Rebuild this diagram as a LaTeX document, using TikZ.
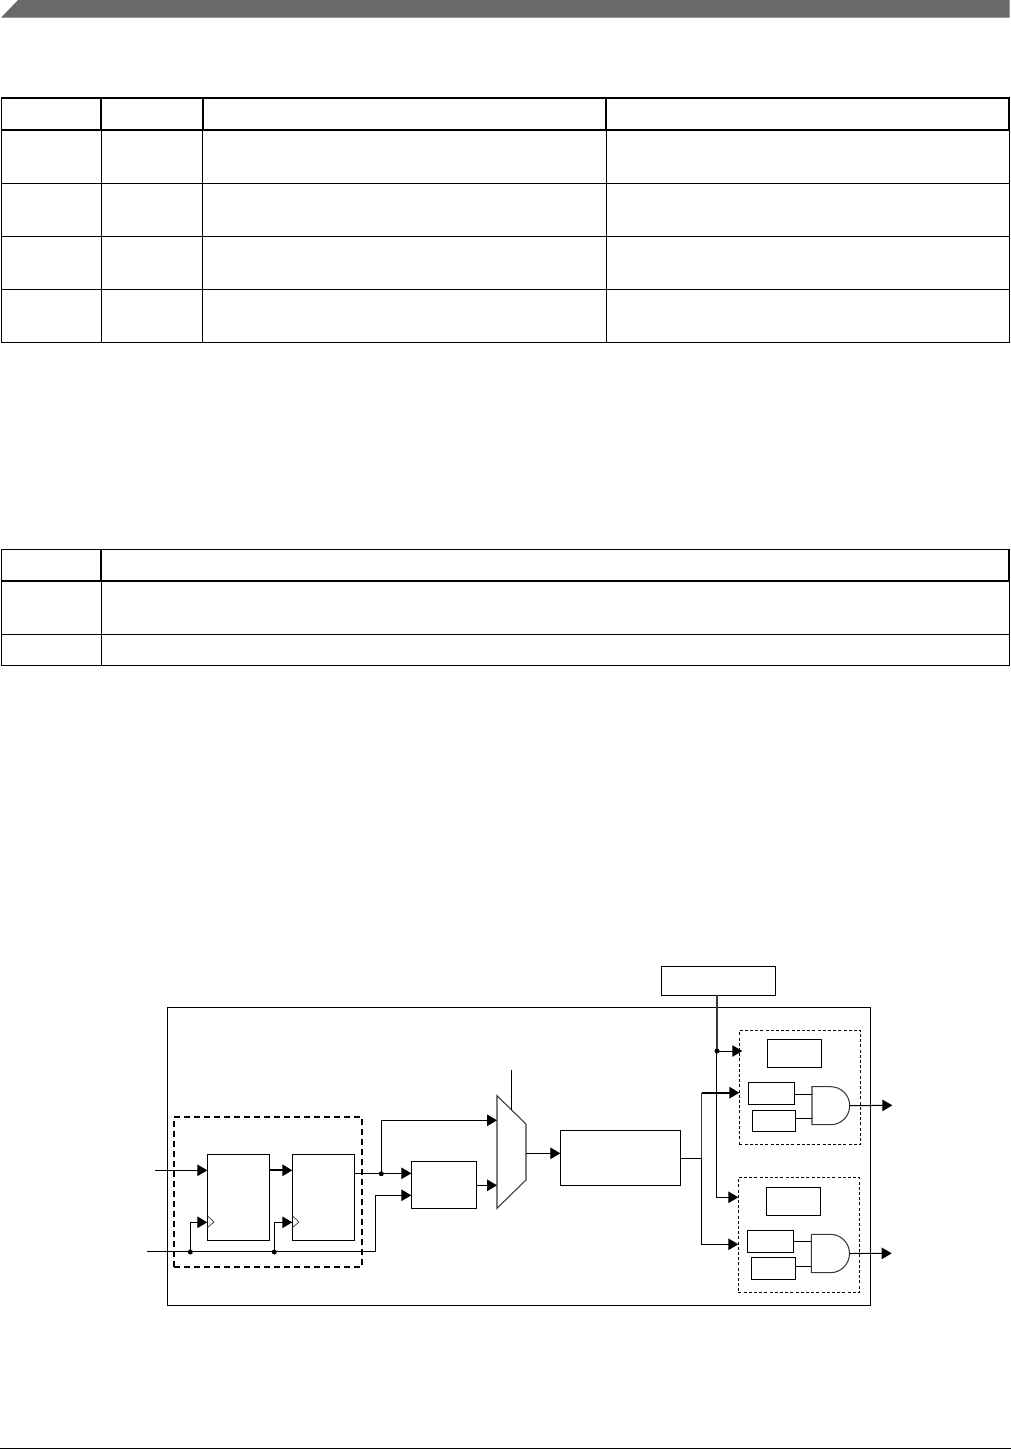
\documentclass[tikz,border=0pt]{standalone}
\usetikzlibrary{arrows.meta,calc}
\definecolor{headgray}{HTML}{696969}
\definecolor{gateline}{HTML}{383838}
\newcommand{\pxbox}[5]{\node[pxrect,minimum width={(#4-#2)*1pt},minimum height={(#5-#3)*1pt}] (#1) at ({(#2+#4)/2},{(#3+#5)/2}) {};}
\newcommand{\andgate}[6]{% name, left, top, bottom, midx, radius
  \draw[gatestyle] (#2,#3) -- (#5,#3) arc[start angle=90,end angle=-90,radius=#6pt] -- (#2,#4) -- cycle;
  \coordinate (#1out) at ({#5+#6},{(#3+#4)/2});
  \coordinate (#1west) at (#2,{(#3+#4)/2});
}
\tikzset{
  pxrect/.style={draw=black,line width=1pt,inner sep=0pt,outer sep=0pt,fill=none},
  wire/.style={line width=1pt,draw=black},
  thickwire/.style={line width=1.8pt,draw=black},
  arr/.style={wire,-{Triangle[length=10pt,width=11.5pt]}},
  thickarr/.style={thickwire,-{Triangle[length=10pt,width=11.5pt]}},
  dotj/.style={circle,fill=black,draw=none,minimum size=5pt,inner sep=0pt,outer sep=0pt},
  dashthick/.style={draw=black,line width=1.4pt,dash pattern=on 6pt off 4pt},
  dashthin/.style={draw=black,line width=.85pt,dash pattern=on 3pt off 2.2pt},
  gatestyle/.style={draw=gateline,line width=1.05pt},
  tablethin/.style={draw=black,line width=1pt},
  tablethick/.style={draw=black,line width=1.9pt},
}
\begin{document}
\begin{tikzpicture}[x=1pt,y=-1pt]
\useasboundingbox[fill=white] (0,0) rectangle (1011,1449);
% page header band
\fill[headgray] (1,17.7) -- (18,0) -- (1009.5,0) -- (1009.5,17.7) -- cycle;
% footer rule
\draw[line width=1pt,draw=black] (0,1448) -- (1011,1448);
% table 1
\draw[tablethin] (1.5,130) -- (1.5,342.5) -- (1009,342.5) -- (1009,130);
\foreach \yy in {183,236,289.3}{\draw[tablethin] (1.5,\yy) -- (1009,\yy);}
\foreach \xx in {101.3,202.7,606}{\draw[tablethin] (\xx,130) -- (\xx,342.5);}
\draw[tablethick] (1.5,98) rectangle (1009,129.7);
\foreach \xx in {101.3,202.7,606}{\draw[tablethick] (\xx,98) -- (\xx,129.7);}
% table 2
\draw[tablethin] (1.5,581) -- (1.5,665.7) -- (1009,665.7) -- (1009,581);
\draw[tablethin] (1.5,634.3) -- (1009,634.3);
\draw[tablethin] (101.3,581) -- (101.3,665.7);
\draw[tablethick] (1.5,549.5) rectangle (1009,580.8);
\draw[tablethick] (101.3,549.5) -- (101.3,580.8);
% outer block and groups
\pxbox{outer}{167.3}{1007.3}{870.3}{1305.3}
\node[inner sep=0pt,outer sep=0pt,dashthick,minimum width=188pt,minimum height=150pt] (sync) at (268,1192) {};
\pxbox{ffa}{207.3}{1154.3}{269.3}{1240.3}
\pxbox{ffb}{292.3}{1154.3}{354.3}{1240.3}
\pxbox{filt}{411.3}{1161.3}{476.3}{1208.3}
\pxbox{core}{560.3}{1130.3}{680.7}{1185.3}
\pxbox{topbox}{661.3}{966.3}{775.3}{995.3}
\node[dashthin,inner sep=0pt,outer sep=0pt,minimum width=121.4pt,minimum height=114pt] (grpa) at (800,1087.3) {};
\node[dashthin,inner sep=0pt,outer sep=0pt,minimum width=121pt,minimum height=115pt] (grpb) at (798.8,1234.8) {};
\pxbox{ar}{767.3}{1039.3}{821.3}{1067.3}
\pxbox{ap}{748.3}{1082.3}{794.3}{1104.3}
\pxbox{aq}{752.3}{1110.3}{795.3}{1131.3}
\pxbox{br}{766.3}{1187.3}{820.3}{1215.3}
\pxbox{bp}{747.3}{1230.3}{793.3}{1252.3}
\pxbox{bq}{751.3}{1257.3}{795.3}{1279.3}
\andgate{ga}{812}{1086.7}{1124.7}{830.7}{19}
\andgate{gb}{811.3}{1234.3}{1272.7}{830.3}{19.2}
% multiplexer
\draw[gatestyle,fill=white] (497,1095.7) -- (526,1124) -- (526,1180) -- (497,1208.3) -- cycle;
\coordinate (muxw) at (497,1150);
\coordinate (muxe) at (526,1153.3);
\coordinate (muxsel) at (511.7,1110);
\coordinate (selend) at (511.7,1070);
\draw[wire] (selend) -- (muxsel);
% clock triangles
\draw[line width=.7pt,draw=gateline] (207.3,1215.7) -- (214,1222) -- (207.3,1227.7);
\draw[line width=.7pt,draw=gateline] (292.3,1215.7) -- (299,1222) -- (292.3,1227.7);
% left part
\coordinate (din) at (155,1170.3);
\coordinate (clkin) at (147,1251.6);
\coordinate (clkend) at (375.3,1251.6);
\coordinate (ckina) at (190.3,1222.3);
\coordinate (ckinb) at (274.3,1222.3);
\coordinate (fout) at (354.3,1173.3);
\coordinate (filtin) at (375.3,1195.3);
\coordinate (muxup) at (381.3,1120.3);
\coordinate (filtout) at (476.3,1185.3);
\draw[arr] (din) -- (din -| ffa.west);
\draw[wire] (clkin) -- (clkend);
\node[dotj] (ja) at (190.3,1252) {};
\node[dotj] (jb) at (274.3,1252) {};
\node[dotj] (jc) at (381.3,1173.7) {};
\draw[arr] (ja.center) -- (ckina) -- (ckina -| ffa.west);
\draw[arr] (jb.center) -- (ckinb) -- (ckinb -| ffb.west);
\draw[thickarr] (ffa.east |- din) -- (ffb.west |- din);
\draw[arr] (fout) -- (fout -| filt.west);
\draw[arr] (jc.center) -- (muxup) -- (muxup -| muxw);
\draw[arr] (clkend) -- (filtin) -- (filtin -| filt.west);
\draw[arr] (filtout) -- (filtout -| muxw);
\draw[arr] (muxe) -- (muxe -| core.west);
% right part
\coordinate (coreout) at (680.7,1158.3);
\coordinate (busx) at (701.7,1158.3);
\coordinate (busup) at (701.7,1092.7);
\coordinate (busdn) at (701.7,1244.3);
\draw[wire] (coreout) -- (busx);
\draw[arr] (busx) -- (busdn) -- (busdn -| grpb.west);
\draw[wire,draw=gateline] (busx) -- (busup);
\draw[thickarr] (busup) -- (busup -| grpa.west);
\coordinate (toptap) at (717,995.3);
\coordinate (enup) at (717,1051);
\coordinate (enjog) at (716.3,1051);
\coordinate (endn) at (716.3,1197.3);
\draw[line width=1.3pt,draw=gateline] (toptap) -- (enup);
\node[dotj] (jd) at (enup) {};
\draw[arr] (jd.center) -- (742.3,1051);
\draw[arr] (enjog) -- (endn) -- (738.3,1197.3);
% gate wiring
\draw[wire] (ap.east |- 0,1094.3) -- (812,1094.3);
\draw[wire] (aq.east |- 0,1118.3) -- (812,1118.3);
\draw[wire] (bp.east |- 0,1241.3) -- (811.3,1241.3);
\draw[wire] (bq.east |- 0,1266.3) -- (811.3,1266.3);
\coordinate (oa) at (892.3,1105.3);
\coordinate (ob) at (891.7,1253.3);
\draw[arr] (gaout) -- (oa);
\draw[arr] (gbout) -- (ob);
\end{tikzpicture}
\end{document}
